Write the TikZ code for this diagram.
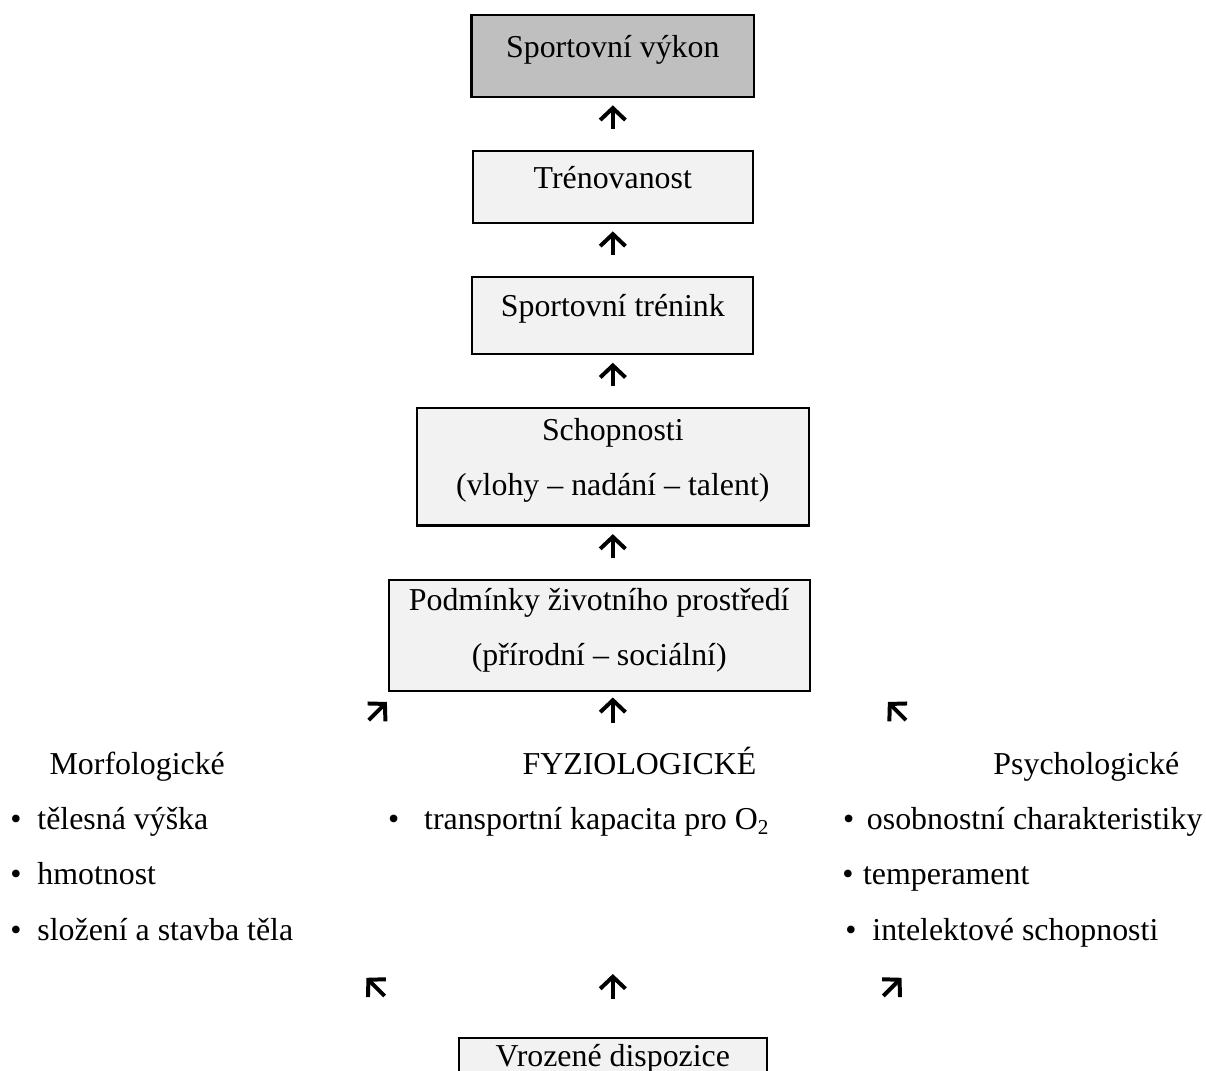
\documentclass[tikz,border=0pt]{standalone}
\usepackage{fontspec}
\setmainfont{Liberation Serif}
\usepackage{tikz}
\usetikzlibrary{arrows.meta,positioning}
\definecolor{Svetla}{HTML}{F2F2F2}
\definecolor{Tmava}{HTML}{BFBFBF}
\tikzset{
    every node/.style={font=\fontsize{12}{14}\selectfont},
    krok/.style={
        draw, line width=0.8pt, fill=Svetla,
        inner sep=0pt, align=center,
        text height=0.7em, text depth=0.6em
    },
    krokdva/.style={
        draw, line width=0.8pt, fill=Svetla,
        inner sep=0pt, align=center,
        font=\fontsize{12}{20.5}\selectfont, text depth=0.76em
    },
    popis/.style={anchor=base west, inner sep=0pt},
    sipka/.style={
        line width=1.5pt, -{Straight Barb[length=4.5pt,width=9.5pt]}
    },
}

\begin{document}
\begin{tikzpicture}[node distance=0.69cm]
    \useasboundingbox (0,0) rectangle (15.96,-14.17);

    % Boxes
    \node[krok, fill=Tmava, minimum width=3.74cm, minimum height=1.08cm] (vykon) at (8.11,-0.74) {Sportovní výkon};
    \node[krok, below=of vykon, minimum width=3.70cm, minimum height=0.95cm] (trenovanost) {Trénovanost};
    \node[krok, below=of trenovanost, minimum width=3.72cm, minimum height=1.02cm] (trenink) {Sportovní trénink};
    \node[krokdva, below=of trenink, minimum width=5.19cm, minimum height=1.55cm] (schopnosti) {Schopnosti\\(vlohy – nadání – talent)};
    \node[krokdva, below=of schopnosti, xshift=-0.18cm, text depth=0.64em, minimum width=5.57cm, minimum height=1.47cm] (podminky) {Podmínky životního prostředí\\(přírodní – sociální)};
    \node[krok, anchor=north, inner ysep=0.13cm, text depth=1em, minimum width=4.07cm] (vrozene) at (8.11,-13.72) {Vrozené dispozice};

    % Arrows between boxes
    \draw[sipka, shorten <=0.28cm, shorten >=0.1cm] (trenovanost) -- (vykon);
    \draw[sipka, shorten <=0.28cm, shorten >=0.1cm] (trenink) -- (trenovanost);
    \draw[sipka, shorten <=0.28cm, shorten >=0.1cm] (schopnosti) -- (trenink);
    \draw[sipka, shorten <=0.28cm, shorten >=0.1cm] (podminky.north -| schopnosti.south) -- (schopnosti.south);

    % Groups of factors
    \node[popis] (morf) at (0.65,-10.25) {Morfologické};
    \node[popis] (fyz) at (6.91,-10.25) {FYZIOLOGICKÉ};
    \node[popis] (psych) at (13.14,-10.25) {Psychologické};

    \node[popis] (morf1) at (0.13,-10.98) {\textbullet\hspace{0.5em}tělesná výška};
    \node[popis] (morf2) at (0.13,-11.71) {\textbullet\hspace{0.5em}hmotnost};
    \node[popis] (morf3) at (0.13,-12.44) {\textbullet\hspace{0.5em}složení a stavba těla};
    \node[popis] (fyz1) at (5.13,-10.98) {\textbullet\hspace{0.78em}transportní kapacita pro O\textsubscript{2}};
    \node[popis] (psych1) at (11.15,-10.98) {\textbullet\hspace{0.4em}osobnostní charakteristiky};
    \node[popis] (psych2) at (11.14,-11.71) {\textbullet\hspace{0.3em}temperament};
    \node[popis] (psych3) at (11.18,-12.44) {\textbullet\hspace{0.5em}intelektové schopnosti};

    % Arrow ends
    \coordinate (hL0) at (4.88,-9.53);  \coordinate (hL1) at (5.12,-9.29);
    \coordinate (hS0) at (8.11,-9.57);  \coordinate (hS1) at (8.11,-9.23);
    \coordinate (hP0) at (11.99,-9.53); \coordinate (hP1) at (11.75,-9.29);
    \coordinate (dL0) at (5.09,-13.18); \coordinate (dL1) at (4.85,-12.94);
    \coordinate (dS0) at (8.11,-13.22); \coordinate (dS1) at (8.11,-12.89);
    \coordinate (dP0) at (11.69,-13.18); \coordinate (dP1) at (11.93,-12.94);

    \draw[sipka] (hL0) -- (hL1);
    \draw[sipka] (hS0) -- (hS1);
    \draw[sipka] (hP0) -- (hP1);
    \draw[sipka] (dL0) -- (dL1);
    \draw[sipka] (dS0) -- (dS1);
    \draw[sipka] (dP0) -- (dP1);
\end{tikzpicture}
\end{document}
